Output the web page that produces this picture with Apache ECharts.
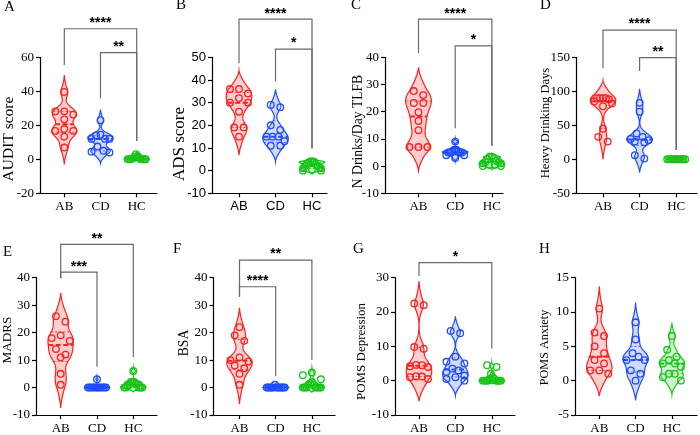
<!DOCTYPE html>
<html><head><meta charset="utf-8">
<script src="https://cdn.jsdelivr.net/npm/echarts@6/dist/echarts.min.js"></script>
<style>html,body{margin:0;padding:0;background:#fff}#c{width:700px;height:435px}</style>
</head><body><div id="c"></div>
<script>
// ---------- data ----------
const groups = ['AB', 'CD', 'HC'];
const panelLetters = ['A', 'B', 'C', 'D', 'E', 'F', 'G', 'H'];
const yTitles = ['AUDIT score', 'ADS score', 'N Drinks/Day TLFB', 'Heavy Drinking Days', 'MADRS', 'BSA', 'POMS Depression', 'POMS Anxiety'];
const yMin = [-20, -10, -10, -50, -10, -10, -10, -5];
const yMax = [60, 50, 40, 150, 40, 40, 30, 15];
const yStep = [20, 10, 10, 50, 10, 10, 10, 5];

const auditAB = [39.6, 28.2, 28.2, 26.3, 23.5, 17.8, 16.7, 16.7, 13.3, 6.9];
const auditCD = [23, 14.5, 14, 12, 12, 12, 7.5, 5, 4.5, 4];
const auditHC = [3, 2, 1.5, 1, 0.5, 0, 0, 0, 0, 0, 0, 0];

const adsAB = [36, 36, 34, 32, 30, 30, 26, 19, 19, 15];
const adsCD = [29, 28, 20, 18, 15, 15, 15, 13, 11, 11];
const adsHC = [4, 4, 4, 3.5, 3, 3, 2, 2, 1.5, 1, 1, 0.5, 0, 0];

const tlfbAB = [27.6, 26.1, 23.2, 23.2, 19.8, 16.6, 13.2, 7, 7, 7];
const tlfbCD = [9, 6, 6, 5.5, 5.5, 5, 5, 5, 5, 4, 4, 3];
const tlfbHC = [3.5, 3.5, 3, 2.5, 2, 1.5, 1.5, 1, 1, 0.5, 0.5, 0, 0];

const hddAB = [90, 90, 90, 90, 88, 85, 82, 78, 45, 33, 26];
const hddCD = [83, 70, 38, 33, 30, 28, 26, 25, 6, 1];
const hddHC = [0, 0, 0, 0, 0, 0, 0, 0, 0, 0, 0, 0];

const madrsAB = [26, 24, 19, 18, 17, 14, 12, 11, 5, 1];
const madrsCD = [3, 0, 0, 0, 0, 0, 0, 0, 0, 0, 0, 0];
const madrsHC = [6, 2, 2, 2, 1.5, 1, 1, 0.5, 0, 0, 0, 0, 0];

const bsaAB = [22, 19, 17, 11, 10, 9.5, 8, 7, 5, 1];
const bsaCD = [1, 0, 0, 0, 0, 0, 0, 0, 0, 0, 0, 0];
const bsaHC = [5.5, 4.5, 3, 2, 1.5, 1, 1, 0, 0, 0, 0, 0, 0, 0];

const depAB = [22.5, 22, 9.8, 9.3, 4.6, 4.5, 4.2, 4.0, 1.3, 1.2, 1.0, 0.5];
const depCD = [14.5, 13.8, 7, 5.5, 5, 3.5, 3, 2.5, 1.5, 1, 0.5, 0];
const depHC = [4.5, 4, 2, 1, 0.5, 0.5, 0, 0, 0, 0, 0, 0, 0, 0];

const anxAB = [10.5, 7, 6.5, 5, 4, 3, 2.5, 1.5, 1.5, 1];
const anxCD = [8.5, 6, 4, 3.5, 3, 3, 1.5, 1, 0];
const anxHC = [6.5, 4.5, 3.5, 3, 2.5, 2.5, 2, 1, 1, 0.5, 0];

const panelData = [
  [auditAB, auditCD, auditHC], [adsAB, adsCD, adsHC], [tlfbAB, tlfbCD, tlfbHC], [hddAB, hddCD, hddHC],
  [madrsAB, madrsCD, madrsHC], [bsaAB, bsaCD, bsaHC], [depAB, depCD, depHC], [anxAB, anxCD, anxHC]
];

// significance annotations: [fromGroup, toGroup, label]
const sigLabels = [
  [[0, 2, '****'], [1, 2, '**']],
  [[0, 2, '****'], [1, 2, '*']],
  [[0, 2, '****'], [1, 2, '*']],
  [[0, 2, '****'], [1, 2, '**']],
  [[0, 2, '**'], [0, 1, '***']],
  [[0, 2, '**'], [0, 1, '****']],
  [[0, 2, '*']],
  []
];
// ---------- layout (annotation placement in axis units, pixel layout) ----------
const bracketPos = [ // [top, endFrom, endTo]
  [[76.8, 55.5, 10.8], [62.7, 35.9, 10.8]],
  [[66.8, 47.4, 9.9], [53.6, 39.3, 9.9]],
  [[54, 41.5, 7.5], [44.2, 13.9, 7.5]],
  [[190, 133.8, 13.7], [149.4, 129.7, 13.7]],
  [[52.1, 39.8, 11], [42, 39.8, 7.6]],
  [[46.4, 33.1, 10], [36.7, 33.1, 4.2]],
  [[34.4, 30.5, 9.4]],
  []
];
// tx/ty: centre of the rotated axis title, ts: its font size
const L = [
  {ax: 40, ab: 64.3, sp: 36.2, right: 157, top: 57.3, h: 136, tx: 8.5, ty: 139, ts: 15.5, lx: 4, ly: 8, sans: false},
  {ax: 212, ab: 239, sp: 36.5, right: 327, top: 57.3, h: 136, tx: 179.5, ty: 144, ts: 17, lx: 176, ly: 6, sans: true},
  {ax: 385, ab: 418.5, sp: 36.7, right: 503, top: 57.3, h: 136, tx: 358.5, ty: 131.5, ts: 13.6, lx: 351, ly: 6, sans: false},
  {ax: 576, ab: 603, sp: 36.6, right: 697, top: 57.3, h: 136, tx: 546, ty: 123, ts: 12.6, lx: 540, ly: 6, sans: false},
  {ax: 36, ab: 60.7, sp: 36.3, right: 157, top: 277.7, h: 137.3, tx: 8, ty: 340, ts: 13.2, lx: 3, ly: 253, sans: false},
  {ax: 213.5, ab: 239.5, sp: 36.2, right: 335, top: 277.7, h: 137.3, tx: 184, ty: 343, ts: 13.7, lx: 173, ly: 250, sans: false},
  {ax: 395, ab: 419, sp: 36.4, right: 515, top: 277.7, h: 137.3, tx: 361.5, ty: 351.5, ts: 13, lx: 353, ly: 250, sans: false},
  {ax: 575, ab: 599.3, sp: 36.3, right: 697, top: 277.7, h: 137.3, tx: 545, ty: 347.5, ts: 12.2, lx: 539, ly: 250, sans: false}
];
const COLORS = [
  {stroke: '#FF1F1F', fill: 'rgba(255,50,50,0.24)'},
  {stroke: '#1F4BFF', fill: 'rgba(40,90,255,0.22)'},
  {stroke: '#17C417', fill: 'rgba(40,200,40,0.22)'}
];
const SERIF = '"Liberation Serif", "Times New Roman", serif';
const SANS = '"Liberation Sans", Arial, sans-serif';

// ---------- stats ----------
function quant(s, p) {
  const n = s.length; const pos = (n + 1) * p;
  if (pos <= 1) return s[0];
  if (pos >= n) return s[n - 1];
  const lo = Math.floor(pos), fr = pos - lo;
  return s[lo - 1] + fr * (s[lo] - s[lo - 1]);
}
function stats(vals) {
  const s = vals.slice().sort((a, b) => a - b);
  const n = s.length;
  const mean = s.reduce((a, b) => a + b, 0) / n;
  const sd = Math.sqrt(s.reduce((a, b) => a + (b - mean) * (b - mean), 0) / (n - 1));
  const q1 = quant(s, 0.25), q2 = quant(s, 0.5), q3 = quant(s, 0.75);
  return {s, n, mean, sd, q1, q2, q3};
}
function profile(st) {
  const s = st.s, n = st.n;
  let spread = Math.min(st.sd, (st.q3 - st.q1) / 1.34);
  if (!(spread > 0)) spread = st.sd;
  if (!(spread > 0)) return null;
  const S = 0.9 * spread * Math.pow(n, -0.2);
  const h = 0.6 * S, E = 1.9 * S;
  const mn = s[0], mx = s[n - 1];
  const lo = mn - E, hi = mx + E;
  const kde = y => s.reduce((a, v) => a + Math.exp(-0.5 * ((y - v) / h) * ((y - v) / h)), 0);
  const wLo = kde(mn), wHi = kde(mx);
  const K = 160, pts = [];
  let maxW = 0;
  for (let i = 0; i <= K; i++) {
    const y = lo + (hi - lo) * i / K;
    let w = kde(y);
    if (y < mn) w = Math.max(w, wLo * Math.pow(Math.max(0, 1 - (mn - y) / E), 1.5));
    if (y > mx) w = Math.max(w, wHi * Math.pow(Math.max(0, 1 - (y - mx) / E), 1.5));
    if (i === 0 || i === K) w = 0;
    pts.push([y, w]);
    if (w > maxW) maxW = w;
  }
  pts.forEach(p => p[1] /= maxW);
  return pts;
}
function interp(prof, y) {
  for (let i = 1; i < prof.length; i++) {
    if (prof[i][0] >= y) {
      const a = prof[i - 1], b = prof[i];
      const t = (y - a[0]) / (b[0] - a[0] || 1);
      return a[1] + t * (b[1] - a[1]);
    }
  }
  return 0;
}

function violinRender(p) {
  return function (params, api) {
    const gi = params.dataIndex;
    const vals = panelData[p][gi];
    const col = COLORS[gi];
    const st = stats(vals);
    const prof = profile(st);
    const c0 = api.coord([gi, 0]);
    const cx = c0[0];
    const unitPx = api.coord([gi + 1, 0])[0] - cx;
    const halfW = 0.35 * unitPx;
    const ch = [];
    if (prof) {
      const right = [], left = [];
      prof.forEach(([y, w]) => {
        const py = api.coord([gi, y])[1];
        right.push([cx + w * halfW, py]);
        left.push([cx - w * halfW, py]);
      });
      ch.push({type: 'polygon', shape: {points: right.concat(left.reverse())},
        style: {fill: col.fill, stroke: col.stroke, lineWidth: 1.2}, z2: 1});
    }
    const widthAt = y => prof ? interp(prof, y) * halfW : halfW * 0.75;
    [st.q1, st.q3].forEach(q => {
      const py = api.coord([gi, q])[1], w = widthAt(q);
      if (w > 1) ch.push({type: 'line', shape: {x1: cx - w, y1: py, x2: cx + w, y2: py},
        style: {stroke: col.stroke, lineWidth: 0.8, lineDash: [2, 2]}, z2: 2});
    });
    {
      const py = api.coord([gi, st.q2])[1], w = widthAt(st.q2);
      ch.push({type: 'line', shape: {x1: cx - w, y1: py, x2: cx + w, y2: py},
        style: {stroke: col.stroke, lineWidth: 2, lineDash: [5, 2.5]}, z2: 3});
    }
    // points: rows arrangement
    const pts = vals.map(v => ({v, py: api.coord([gi, v])[1]})).sort((a, b) => a.py - b.py);
    let i = 0;
    while (i < pts.length) {
      const row = [pts[i]];
      let j = i + 1;
      while (j < pts.length && pts[j].py - pts[i].py < 7) { row.push(pts[j]); j++; }
      const m = row.length;
      const spc = m > 1 ? Math.min(9.5, 18 / (m - 1)) : 0;
      const order = [];
      if (m % 2) { order.push(0); for (let k = 1; order.length < m; k++) { order.push(-k); if (order.length < m) order.push(k); } }
      else { for (let k = 0.5; order.length < m; k++) { order.push(-k); order.push(k); } }
      row.forEach((pt, k) => {
        ch.push({type: 'circle', shape: {cx: cx + order[k] * spc, cy: pt.py, r: 3.3},
          style: {fill: 'none', stroke: col.stroke, lineWidth: 1.3}, z2: 4});
      });
      i = j;
    }
    return {type: 'group', children: ch};
  };
}
function bracketRender(p) {
  return function (params, api) {
    const b = sigLabels[p][params.dataIndex];
    const pos = bracketPos[p][params.dataIndex];
    const t1 = api.coord([b[0], pos[0]]), t2 = api.coord([b[1], pos[0]]);
    const e1 = api.coord([b[0], pos[1]]), e2 = api.coord([b[1], pos[2]]);
    return {type: 'group', children: [
      {type: 'polyline', shape: {points: [e1, [e1[0], t1[1]], [t2[0], t1[1]], e2]},
        style: {stroke: '#6a6a6a', lineWidth: 1.2, fill: null}},
      {type: 'text', style: {text: b[2], x: (t1[0] + t2[0]) / 2, y: t1[1] - 5.5, align: 'center', verticalAlign: 'middle',
        font: 'bold 14px ' + SANS, fill: '#000'}}
    ]};
  };
}

const grid = [], xAxis = [], yAxis = [], series = [], graphic = [];
L.forEach((l, p) => {
  const width = l.right - l.ax;
  const xmin = -(l.ab - l.ax) / l.sp;
  const xmax = xmin + width / l.sp;
  const tf = l.sans ? SANS : SERIF;
  grid.push({left: l.ax, top: l.top, width: width, height: l.h, containLabel: false, outerBoundsMode: 'none'});
  xAxis.push({type: 'value', gridIndex: p, min: xmin, max: xmax,
    axisLine: {show: true, onZero: false, lineStyle: {color: '#000', width: 1.2}},
    axisTick: {show: true, customValues: [0, 1, 2], length: 4, lineStyle: {color: '#000', width: 1.2}},
    axisLabel: {customValues: [0, 1, 2], formatter: v => groups[Math.round(v)], color: '#000', fontFamily: tf, fontSize: 13, margin: 7},
    splitLine: {show: false}});
  yAxis.push({type: 'value', gridIndex: p, min: yMin[p], max: yMax[p], interval: yStep[p],
    axisLine: {show: true, onZero: false, lineStyle: {color: '#000', width: 1.2}},
    axisTick: {show: true, length: 4, lineStyle: {color: '#000', width: 1.2}},
    axisLabel: {color: '#000', fontFamily: tf, fontSize: 13, margin: 6},
    splitLine: {show: false}});
  series.push({type: 'custom', xAxisIndex: p, yAxisIndex: p, clip: false, silent: true,
    renderItem: violinRender(p), data: [[0, 0], [1, 0], [2, 0]], encode: {x: 0, y: 1}, animation: false});
  if (sigLabels[p].length) series.push({type: 'custom', xAxisIndex: p, yAxisIndex: p, clip: false, silent: true,
    renderItem: bracketRender(p), data: sigLabels[p].map(b => [b[0], 0]), encode: {x: 0, y: 1}, animation: false});
  graphic.push({type: 'text', left: l.lx, top: l.ly - 8, style: {text: panelLetters[p], font: '15px ' + SERIF, fill: '#000'}});
  graphic.push({type: 'text', x: l.tx, y: l.ty, rotation: Math.PI / 2,
    style: {text: yTitles[p], font: l.ts + 'px ' + SERIF, fill: '#000', align: 'center', verticalAlign: 'middle'}});
});

const chart = echarts.init(document.getElementById('c'), null, {renderer: 'canvas'});
chart.setOption({animation: false, backgroundColor: '#fff', grid, xAxis, yAxis, series, graphic});
</script>
</body></html>
